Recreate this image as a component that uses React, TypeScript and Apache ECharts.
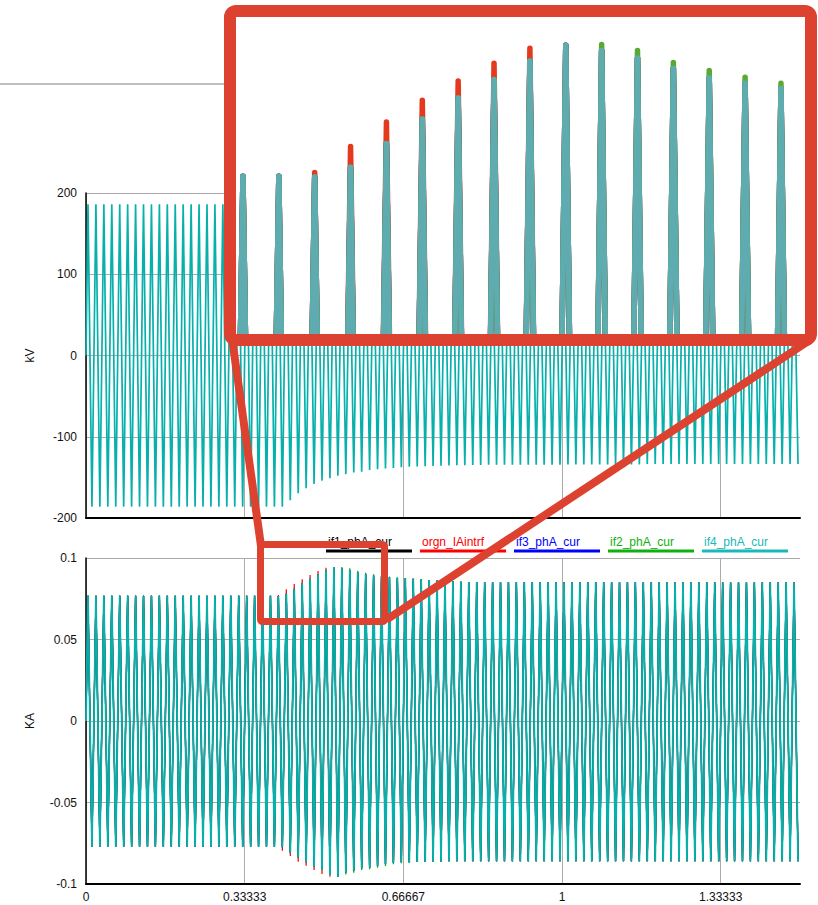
import React, { useEffect, useRef } from 'react';
import * as echarts from 'echarts';

// ---------- data ----------
const SERIES_NAMES = ['if1_phA_cur', 'orgn_IAintrf', 'if3_phA_cur', 'if2_phA_cur', 'if4_phA_cur'];
const SERIES_COLORS = ['#000000', '#ff0000', '#0000ff', '#00a800', '#07b0ab'];
const INSET_COLORS = ['#3a3a3a', '#e5391d', '#3f63d6', '#5ba932', '#5eacb0'];
const LEGEND_COLORS = ['#000000', '#ff0000', '#0000ff', '#10b010', '#1cb8b8'];
const X_TICK_LABELS = ['0', '0.33333', '0.66667', '1', '1.33333'];
const VOLT_NAME = 'phA_vol';

const MAINS_HZ = 60;
const CYCLE_COUNT = 90;

// per-cycle crest / trough of the phase-A currents (kA), common trace (if1, if3, if4)
const curCrest = [
  0.0768, 0.0768, 0.0768, 0.0768, 0.0768, 0.0768, 0.0768, 0.0768, 0.0768, 0.0768,
  0.0768, 0.0768, 0.0768, 0.0768, 0.0768, 0.0768, 0.0768, 0.0768, 0.0768, 0.0768,
  0.0768, 0.0768, 0.0768, 0.0768, 0.0767, 0.0780, 0.0812, 0.0845, 0.0873, 0.0898,
  0.0923, 0.0944, 0.0937, 0.0927, 0.0913, 0.0900, 0.0893, 0.0886, 0.0882, 0.0878,
  0.0875, 0.0872, 0.0868, 0.0865, 0.0862, 0.0859, 0.0857, 0.0855, 0.0853, 0.0852,
  0.0851, 0.0851, 0.0851, 0.0851, 0.0851, 0.0851, 0.0851, 0.0851, 0.0851, 0.0851,
  0.0851, 0.0851, 0.0851, 0.0851, 0.0851, 0.0851, 0.0851, 0.0851, 0.0851, 0.0851,
  0.0850, 0.0850, 0.0850, 0.0850, 0.0850, 0.0850, 0.0850, 0.0850, 0.0850, 0.0850,
  0.0850, 0.0850, 0.0850, 0.0850, 0.0850, 0.0850, 0.0850, 0.0850, 0.0850, 0.0850,
];
const curTrough = [
  -0.0770, -0.0770, -0.0770, -0.0770, -0.0770, -0.0770, -0.0770, -0.0770, -0.0770, -0.0770,
  -0.0770, -0.0770, -0.0770, -0.0770, -0.0770, -0.0770, -0.0770, -0.0770, -0.0770, -0.0770,
  -0.0770, -0.0770, -0.0770, -0.0772, -0.0775, -0.0806, -0.0836, -0.0867, -0.0894, -0.0914,
  -0.0945, -0.0955, -0.0931, -0.0918, -0.0904, -0.0900, -0.0890, -0.0879, -0.0871, -0.0866,
  -0.0866, -0.0865, -0.0864, -0.0862, -0.0862, -0.0861, -0.0861, -0.0861, -0.0861, -0.0861,
  -0.0860, -0.0860, -0.0860, -0.0860, -0.0860, -0.0860, -0.0860, -0.0860, -0.0860, -0.0860,
  -0.0860, -0.0860, -0.0860, -0.0860, -0.0860, -0.0860, -0.0860, -0.0860, -0.0860, -0.0860,
  -0.0860, -0.0860, -0.0860, -0.0860, -0.0860, -0.0860, -0.0860, -0.0860, -0.0860, -0.0860,
  -0.0860, -0.0860, -0.0860, -0.0860, -0.0860, -0.0860, -0.0860, -0.0860, -0.0860, -0.0860,
];
// orgn_IAintrf (red) runs ahead on the rising cycles
const orgnCrest = [
  0.0768, 0.0768, 0.0768, 0.0768, 0.0768, 0.0768, 0.0768, 0.0768, 0.0768, 0.0768,
  0.0768, 0.0768, 0.0768, 0.0768, 0.0768, 0.0768, 0.0768, 0.0768, 0.0768, 0.0768,
  0.0768, 0.0768, 0.0768, 0.0768, 0.0773, 0.0808, 0.0841, 0.0870, 0.0896, 0.0920,
  0.0940, 0.0944, 0.0937, 0.0927, 0.0913, 0.0900, 0.0893, 0.0886, 0.0882, 0.0878,
  0.0875, 0.0872, 0.0868, 0.0865, 0.0862, 0.0859, 0.0857, 0.0855, 0.0853, 0.0852,
  0.0851, 0.0851, 0.0851, 0.0851, 0.0851, 0.0851, 0.0851, 0.0851, 0.0851, 0.0851,
  0.0851, 0.0851, 0.0851, 0.0851, 0.0851, 0.0851, 0.0851, 0.0851, 0.0851, 0.0851,
  0.0850, 0.0850, 0.0850, 0.0850, 0.0850, 0.0850, 0.0850, 0.0850, 0.0850, 0.0850,
  0.0850, 0.0850, 0.0850, 0.0850, 0.0850, 0.0850, 0.0850, 0.0850, 0.0850, 0.0850,
];
const orgnTrough = [
  -0.0770, -0.0770, -0.0770, -0.0770, -0.0770, -0.0770, -0.0770, -0.0770, -0.0770, -0.0770,
  -0.0770, -0.0770, -0.0770, -0.0770, -0.0770, -0.0770, -0.0770, -0.0770, -0.0770, -0.0770,
  -0.0770, -0.0770, -0.0770, -0.0772, -0.0796, -0.0828, -0.0863, -0.0888, -0.0914, -0.0939,
  -0.0955, -0.0955, -0.0931, -0.0918, -0.0904, -0.0900, -0.0890, -0.0879, -0.0871, -0.0866,
  -0.0866, -0.0865, -0.0864, -0.0862, -0.0862, -0.0861, -0.0861, -0.0861, -0.0861, -0.0861,
  -0.0860, -0.0860, -0.0860, -0.0860, -0.0860, -0.0860, -0.0860, -0.0860, -0.0860, -0.0860,
  -0.0860, -0.0860, -0.0860, -0.0860, -0.0860, -0.0860, -0.0860, -0.0860, -0.0860, -0.0860,
  -0.0860, -0.0860, -0.0860, -0.0860, -0.0860, -0.0860, -0.0860, -0.0860, -0.0860, -0.0860,
  -0.0860, -0.0860, -0.0860, -0.0860, -0.0860, -0.0860, -0.0860, -0.0860, -0.0860, -0.0860,
];
// if2_phA_cur (green) lags on the decaying cycles
const if2Crest = [
  0.0768, 0.0768, 0.0768, 0.0768, 0.0768, 0.0768, 0.0768, 0.0768, 0.0768, 0.0768,
  0.0768, 0.0768, 0.0768, 0.0768, 0.0768, 0.0768, 0.0768, 0.0768, 0.0768, 0.0768,
  0.0768, 0.0768, 0.0768, 0.0768, 0.0767, 0.0780, 0.0812, 0.0845, 0.0873, 0.0898,
  0.0923, 0.0944, 0.0945, 0.0937, 0.0921, 0.0910, 0.0901, 0.0893, 0.0887, 0.0882,
  0.0878, 0.0873, 0.0868, 0.0865, 0.0862, 0.0859, 0.0857, 0.0855, 0.0853, 0.0852,
  0.0851, 0.0851, 0.0851, 0.0851, 0.0851, 0.0851, 0.0851, 0.0851, 0.0851, 0.0851,
  0.0851, 0.0851, 0.0851, 0.0851, 0.0851, 0.0851, 0.0851, 0.0851, 0.0851, 0.0851,
  0.0850, 0.0850, 0.0850, 0.0850, 0.0850, 0.0850, 0.0850, 0.0850, 0.0850, 0.0850,
  0.0850, 0.0850, 0.0850, 0.0850, 0.0850, 0.0850, 0.0850, 0.0850, 0.0850, 0.0850,
];
const if2Trough = [
  -0.0770, -0.0770, -0.0770, -0.0770, -0.0770, -0.0770, -0.0770, -0.0770, -0.0770, -0.0770,
  -0.0770, -0.0770, -0.0770, -0.0770, -0.0770, -0.0770, -0.0770, -0.0770, -0.0770, -0.0770,
  -0.0770, -0.0770, -0.0770, -0.0772, -0.0775, -0.0806, -0.0836, -0.0867, -0.0894, -0.0914,
  -0.0945, -0.0955, -0.0941, -0.0931, -0.0914, -0.0910, -0.0900, -0.0890, -0.0879, -0.0873,
  -0.0869, -0.0865, -0.0864, -0.0862, -0.0862, -0.0861, -0.0861, -0.0861, -0.0861, -0.0861,
  -0.0860, -0.0860, -0.0860, -0.0860, -0.0860, -0.0860, -0.0860, -0.0860, -0.0860, -0.0860,
  -0.0860, -0.0860, -0.0860, -0.0860, -0.0860, -0.0860, -0.0860, -0.0860, -0.0860, -0.0860,
  -0.0860, -0.0860, -0.0860, -0.0860, -0.0860, -0.0860, -0.0860, -0.0860, -0.0860, -0.0860,
  -0.0860, -0.0860, -0.0860, -0.0860, -0.0860, -0.0860, -0.0860, -0.0860, -0.0860, -0.0860,
];
// per-cycle crest / trough of the bus voltage (kV)
const voltCrest = [
  186, 186, 186, 186, 186, 186, 186, 186, 186, 186,
  186, 186, 186, 186, 186, 186, 186, 186, 186, 186,
  186, 186, 186, 186, 186, 180, 172, 165, 159, 155,
  151, 148, 146, 144, 143, 141, 140, 139, 138, 137.5,
  137, 136.6, 136.3, 136, 135.7, 135.4, 135.2, 135, 134.8, 134.7,
  134.5, 134.5, 134.5, 134.5, 134.5, 134.5, 134.5, 134.5, 134.5, 134.5,
  134.3, 134.3, 134.3, 134.3, 134.3, 134.3, 134.3, 134.3, 134.3, 134.3,
  134, 134, 134, 134, 134, 134, 134, 134, 134, 134,
  134, 134, 134, 134, 134, 134, 134, 134, 134, 134,
];
const voltTrough = [
  -186, -186, -186, -186, -186, -186, -186, -186, -186, -186,
  -186, -186, -186, -186, -186, -186, -186, -186, -186, -186,
  -186, -186, -186, -186, -186, -178, -169.6, -163.4, -158, -154,
  -151, -148, -146, -144, -143, -141, -140, -139, -138.5, -137.6,
  -136.8, -136.5, -136.2, -136, -135.7, -135.4, -135.2, -135, -134.8, -134.6,
  -134.3, -134.3, -134.3, -134.3, -134.3, -134.3, -134.3, -134.3, -134.3, -134.3,
  -134, -134, -134, -134, -134, -134, -134, -134, -134, -134,
  -133.5, -133.5, -133.5, -133.5, -133.5, -133.5, -133.5, -133.5, -133.5, -133.5,
  -133.5, -133.5, -133.5, -133.5, -133.5, -133.5, -133.5, -133.5, -133.5, -133.5,
];

const CURRENT_TRACES = [
  [curCrest, curTrough],
  [orgnCrest, orgnTrough],
  [curCrest, curTrough],
  [if2Crest, if2Trough],
  [curCrest, curTrough],
];

function wave(crest: number[], trough: number[]) {
  const pts: number[][] = [[0, 0]];
  for (let k = 0; k < CYCLE_COUNT; k++) {
    pts.push([(k + 0.25) / MAINS_HZ, crest[k]]);
    pts.push([(k + 0.75) / MAINS_HZ, trough[k]]);
  }
  return pts;
}

const FONT = "'Liberation Sans', Arial, sans-serif";
const RED = '#dd4230';
const GRID_COLOR = '#ababab';

export default function App() {
  const ref = useRef<HTMLDivElement>(null);
  useEffect(() => {
    if (!ref.current) return;
    const chart = echarts.init(ref.current, undefined, { renderer: 'svg' });

    const labelStyle = { color: '#111', fontSize: 12, fontFamily: FONT };
    const xBase = (gridIndex: number, showLabels: boolean) => ({
      gridIndex,
      type: 'value',
      min: 0,
      max: 1.5,
      interval: 1 / 3,
      axisLine: { show: true, onZero: false, lineStyle: { color: '#000', width: 2 } },
      axisTick: { show: false },
      axisLabel: {
        show: showLabels,
        ...labelStyle,
        margin: 7,
        showMaxLabel: false,
        formatter: (v: number) => X_TICK_LABELS[Math.round(v * 3)] ?? '',
      },
      splitLine: { show: true, showMaxLine: false, lineStyle: { color: GRID_COLOR, width: 1 } },
    });
    const yBase = (gridIndex: number, min: number, max: number, interval: number, name: string) => ({
      gridIndex,
      type: 'value',
      min,
      max,
      interval,
      name,
      nameLocation: 'middle',
      nameRotate: 90,
      nameGap: 50,
      nameTextStyle: { color: '#111', fontSize: 12, fontFamily: FONT },
      axisLine: { show: true, onZero: false, lineStyle: { color: '#000', width: 1.5 } },
      axisTick: { show: false },
      axisLabel: { ...labelStyle, margin: 9 },
      splitLine: { show: true, lineStyle: { color: GRID_COLOR, width: 1 } },
    });

    const series: any[] = [];
    series.push({
      name: VOLT_NAME,
      type: 'line',
      xAxisIndex: 0,
      yAxisIndex: 0,
      data: wave(voltCrest, voltTrough),
      showSymbol: false,
      silent: true,
      lineStyle: { color: '#07b0ab', width: 1.7 },
      z: 2,
    });
    SERIES_NAMES.forEach((name, i) => {
      const [c, t] = CURRENT_TRACES[i];
      const top = i === SERIES_NAMES.length - 1;
      series.push({
        name,
        type: 'line',
        xAxisIndex: 1,
        yAxisIndex: 1,
        data: wave(c, t),
        showSymbol: false,
        silent: true,
        lineStyle: { color: SERIES_COLORS[i], width: top ? 1.8 : 1.2 },
        z: 2,
      });
    });
    SERIES_NAMES.forEach((name, i) => {
      const [c, t] = CURRENT_TRACES[i];
      series.push({
        name,
        type: 'line',
        xAxisIndex: 2,
        yAxisIndex: 2,
        data: wave(c, t),
        showSymbol: false,
        silent: true,
        clip: true,
        lineStyle: { color: INSET_COLORS[i], width: 5.5, join: 'round', cap: 'round' },
        z: 110,
      });
    });

    const legendGraphics: any[] = [];
    SERIES_NAMES.forEach((name, i) => {
      const x0 = 326 + i * 94;
      legendGraphics.push({
        type: 'text',
        z: 5,
        x: x0 + 2,
        y: 542,
        style: { text: name, fill: LEGEND_COLORS[i], font: `12px ${FONT}`, verticalAlign: 'middle', align: 'left' },
      });
      legendGraphics.push({
        type: 'line',
        z: 5,
        shape: { x1: x0, y1: 551, x2: x0 + 86, y2: 551 },
        style: { stroke: LEGEND_COLORS[i], lineWidth: 3 },
      });
    });

    chart.setOption({
      animation: false,
      backgroundColor: '#ffffff',
      grid: [
        { left: 86, top: 193, width: 714, height: 325 },
        { left: 86, top: 558, width: 714, height: 326 },
        { left: 236, top: 17, width: 569, height: 317 },
      ],
      xAxis: [
        xBase(0, false),
        xBase(1, true),
        { gridIndex: 2, type: 'value', min: 0.3676, max: 0.632, show: false },
      ],
      yAxis: [
        yBase(0, -200, 200, 100, 'kV'),
        yBase(1, -0.1, 0.1, 0.05, 'KA'),
        { gridIndex: 2, type: 'value', min: 0.0556, max: 0.0982, show: false },
      ],
      series,
      graphic: [
        { type: 'line', z: 1, shape: { x1: 0, y1: 84, x2: 226, y2: 84 }, style: { stroke: '#a8a8a8', lineWidth: 1.5 } },
        ...legendGraphics,
        { type: 'line', z: 95, shape: { x1: 232, y1: 338, x2: 261, y2: 546 }, style: { stroke: RED, lineWidth: 8 } },
        { type: 'line', z: 95, shape: { x1: 386, y1: 620, x2: 810, y2: 340 }, style: { stroke: RED, lineWidth: 8 } },
        { type: 'rect', z: 95, shape: { x: 260.5, y: 544.5, width: 124, height: 77, r: 2 }, style: { fill: 'none', stroke: RED, lineWidth: 7 } },
        { type: 'rect', z: 100, shape: { x: 230, y: 11, width: 581, height: 329 }, style: { fill: '#ffffff' } },
        { type: 'rect', z: 130, shape: { x: 230, y: 11, width: 581, height: 329, r: 6 }, style: { fill: 'none', stroke: RED, lineWidth: 12 } },
      ],
    });
    return () => chart.dispose();
  }, []);
  return <div ref={ref} style={{ position: 'fixed', left: 0, top: 0, width: 818, height: 905, background: '#fff' }} />;
}
